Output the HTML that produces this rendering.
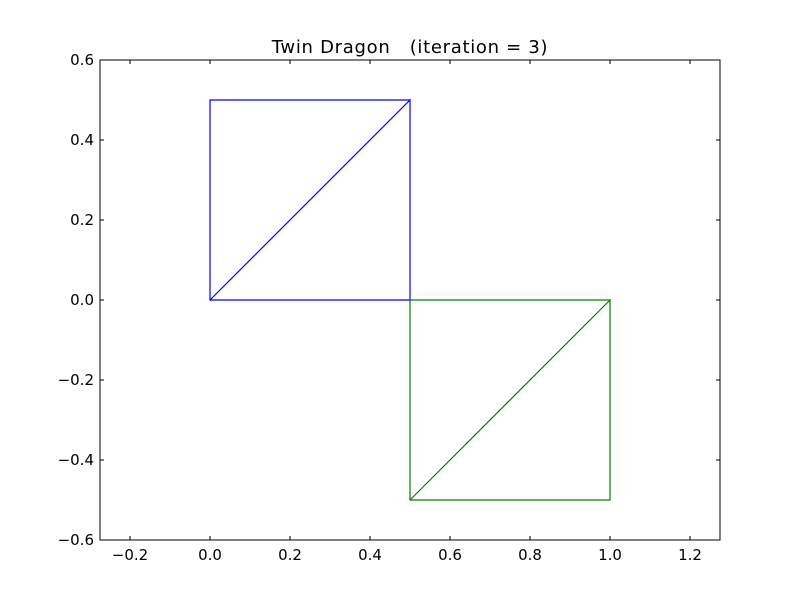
<!DOCTYPE html>
<html><head><meta charset="utf-8"><style>
body{margin:0;background:#fff;}
svg{display:block;font-family:"DejaVu Sans","Liberation Sans",sans-serif;}
</style></head><body>
<svg id="chart" width="800" height="600">
<rect x="0" y="0" width="800" height="600" fill="#fff"/>
<text x="410" y="53" text-anchor="middle" font-size="18" letter-spacing="0.7" style="white-space:pre" xml:space="preserve">Twin Dragon   (iteration = 3)</text>
<g id="ticks"></g>
<g id="series"></g>
<rect x="100" y="60" width="620" height="480" fill="none" stroke="#000" stroke-width="1"/>
</svg>
<script>
const xTicks=[-0.2,0,0.2,0.4,0.6,0.8,1.0,1.2];
const yTicks=[-0.6,-0.4,-0.2,0,0.2,0.4,0.6];
const xTickLabels=["\u22120.2","0.0","0.2","0.4","0.6","0.8","1.0","1.2"];
const yTickLabels=["\u22120.6","\u22120.4","\u22120.2","0.0","0.2","0.4","0.6"];
const blueX=[0,0.5,0.5,0,0,0.5];
const blueY=[0,0.5,0,0,0.5,0.5];
const greenX=[0.5,1,0.5,0.5,1,1];
const greenY=[-0.5,0,0,-0.5,-0.5,0];
const X0=100,X1=720,Y0=540,Y1=60,xmin=-0.275,xmax=1.275,ymin=-0.6,ymax=0.6;
const sx=v=>X0+(v-xmin)/(xmax-xmin)*(X1-X0);
const sy=v=>Y0-(v-ymin)/(ymax-ymin)*(Y0-Y1);
const NS="http://www.w3.org/2000/svg";
const tg=document.getElementById('ticks'),sg=document.getElementById('series');
function mk(t,a,p){const e=document.createElementNS(NS,t);for(const k in a)e.setAttribute(k,a[k]);p.appendChild(e);return e;}
xTicks.forEach((v,i)=>{const x=sx(v);
 const t1=mk('line',{x1:x,x2:x,y1:Y0,y2:Y0-4,stroke:'#000'},tg);
 
 
 const t2=mk('line',{x1:x,x2:x,y1:Y1,y2:Y1+4,stroke:'#000'},tg);
 
 
 const l=mk('text',{x:x,y:Y0+20,'text-anchor':'middle','font-size':'15'},tg);l.textContent=xTickLabels[i];
 
 
});
yTicks.forEach((v,i)=>{const y=sy(v);
 const t1=mk('line',{x1:X0,x2:X0+4,y1:y,y2:y,stroke:'#000'},tg);
 
 
 const t2=mk('line',{x1:X1,x2:X1-4,y1:y,y2:y,stroke:'#000'},tg);
 
 
 const l=mk('text',{x:X0-6,y:y+5,'text-anchor':'end','font-size':'15'},tg);l.textContent=yTickLabels[i];
 
 
});
function series(xs,ys,c,name){const pts=xs.map((v,i)=>sx(v)+','+sy(ys[i])).join(' ');
 const p=mk('polyline',{points:pts,fill:'none',stroke:c,'stroke-width':1.2},sg);
 
 }
series(blueX,blueY,'#0000ff','blue-dragon-line');
series(greenX,greenY,'#008000','green-dragon-line');
</script>
</body></html>
